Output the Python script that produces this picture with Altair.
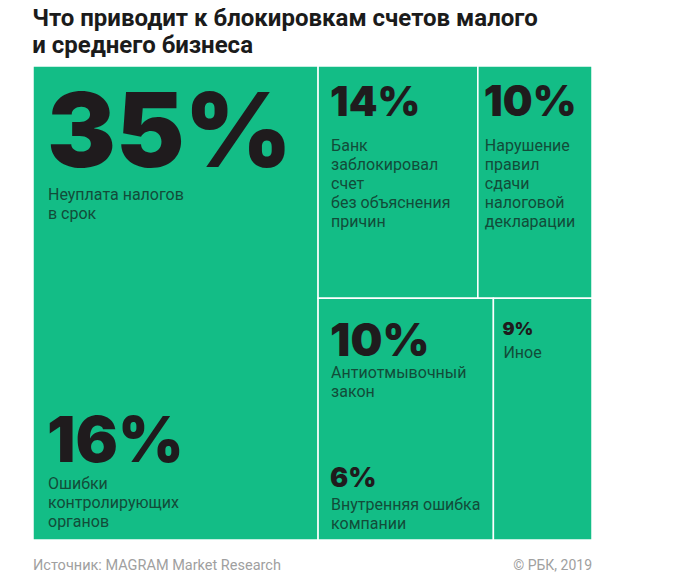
import altair as alt
import pandas as pd

# ---- data ----
categories = [
    "Неуплата налогов в срок",
    "Ошибки контролирующих органов",
    "Банк заблокировал счет без объяснения причин",
    "Нарушение правил сдачи налоговой декларации",
    "Антиотмывочный закон",
    "Внутренняя ошибка компании",
    "Иное",
]
shares = [35, 16, 14, 10, 10, 6, 9]
blocks = ["A", "A", "B", "C", "D", "D", "E"]
label_lines = [
    ["Неуплата налогов", "в срок"],
    ["Ошибки", "контролирующих", "органов"],
    ["Банк", "заблокировал", "счет", "без объяснения", "причин"],
    ["Нарушение", "правил", "сдачи", "налоговой", "декларации"],
    ["Антиотмывочный", "закон"],
    ["Внутренняя ошибка", "компании"],
    ["Иное"],
]
title_lines = ["Что приводит к блокировкам счетов малого", "и среднего бизнеса"]
source_text = "Источник: MAGRAM Market Research"
copyright_text = "© РБК, 2019"

# ---- treemap layout (slice and dice) computed from the values ----
left_blocks = ["A"]
right_rows = [["B", "C"], ["D", "E"]]
bsum = {}
for b, v in zip(blocks, shares):
    bsum[b] = bsum.get(b, 0) + v
total = sum(shares)
rects = []
xl = 0.0
for b in left_blocks:
    w = bsum[b] / total * 100
    rects.append(dict(block=b, x0=xl, x1=xl + w, y0=0.0, y1=100.0))
    xl += w
right_total = sum(bsum[b] for row in right_rows for b in row)
yc = 0.0
for row in right_rows:
    rs = sum(bsum[b] for b in row)
    h = rs / right_total * 100
    xc = xl
    for b in row:
        w = bsum[b] / rs * (100 - xl)
        rects.append(dict(block=b, x0=xc, x1=xc + w, y0=yc, y1=yc + h))
        xc += w
    yc += h
rect_df = pd.DataFrame(rects)
bmap = {r["block"]: r for r in rects}

items = []
seen = {}
for i, (c, v, b, ll) in enumerate(zip(categories, shares, blocks, label_lines)):
    first = b not in seen
    seen[b] = True
    r = bmap[b]
    items.append(dict(idx=i, cat=c, num=f"{v}%", label="\n".join(ll),
                      x0=r["x0"], ay=r["y0"] if first else r["y1"]))
item_df = pd.DataFrame(items)

# ---- styles (pixel offsets relative to block anchors) ----
GREEN = "#13bd86"
NUM_COLOR = "#1f1b1d"
LAB_COLOR = "#124c39"
# fontSize, dx, number baseline dy, label first baseline dy
STYLE = {
    0: (103, 15, 101, 134),
    1: (63, 15, -78, -51),
    2: (41, 13, 50, 85),
    3: (42, 7, 50, 85),
    4: (45, 13, 58, 80),
    5: (27, 13, -53, -30),
    6: (18, 10, 37, 60),
}

W, H = 559, 474
xs = alt.Scale(domain=[0, 100], nice=False, zero=False)
ys = alt.Scale(domain=[0, 100], nice=False, zero=False, reverse=True)

rect_layer = alt.Chart(rect_df).mark_rect(
    color=GREEN, stroke="white", strokeWidth=1.5
).encode(
    x=alt.X("x0:Q", scale=xs, axis=None),
    x2="x1:Q",
    y=alt.Y("y0:Q", scale=ys, axis=None),
    y2="y1:Q",
)

layers = [rect_layer]
base = alt.Chart(item_df)
for i, (fs, dx, ndy, ldy) in STYLE.items():
    sub = base.transform_filter(alt.datum.idx == i)
    layers.append(
        sub.mark_text(align="left", baseline="alphabetic", font="Inter",
                      fontWeight=900, fontSize=fs, color=NUM_COLOR,
                      dx=dx - 1, dy=ndy).encode(
            x=alt.X("x0:Q", scale=xs, axis=None),
            y=alt.Y("ay:Q", scale=ys, axis=None),
            text="num:N",
        )
    )
    layers.append(
        sub.mark_text(align="left", baseline="alphabetic", font="Roboto",
                      fontSize=16, lineHeight=19, lineBreak="\n",
                      color=LAB_COLOR, dx=dx, dy=ldy).encode(
            x=alt.X("x0:Q", scale=xs, axis=None),
            y=alt.Y("ay:Q", scale=ys, axis=None),
            text="label:N",
        )
    )

foot_df = pd.DataFrame({"src": [source_text], "cr": [copyright_text]})
layers.append(
    alt.Chart(foot_df).mark_text(align="left", baseline="alphabetic", font="Roboto",
                                 fontSize=14.5, color="#a0a0a0").encode(
        x=alt.value(0), y=alt.value(H + 30), text="src:N")
)
layers.append(
    alt.Chart(foot_df).mark_text(align="right", baseline="alphabetic", font="Roboto",
                                 fontSize=14, color="#a0a0a0").encode(
        x=alt.value(W), y=alt.value(H + 30), text="cr:N")
)

chart = alt.layer(*layers).properties(
    width=W,
    height=H,
    autosize=alt.AutoSizeParams(type="none"),
    padding={"left": 25, "top": 58, "right": 60, "bottom": 40},
    title=alt.TitleParams(
        text=title_lines, anchor="start", font="Roboto", fontSize=24,
        fontWeight="bold", color="#1b1b1b", lineHeight=27, offset=7,
    ),
).configure_view(stroke=None)

chart.save("out.html", embed_options={"renderer": "svg", "actions": False})
